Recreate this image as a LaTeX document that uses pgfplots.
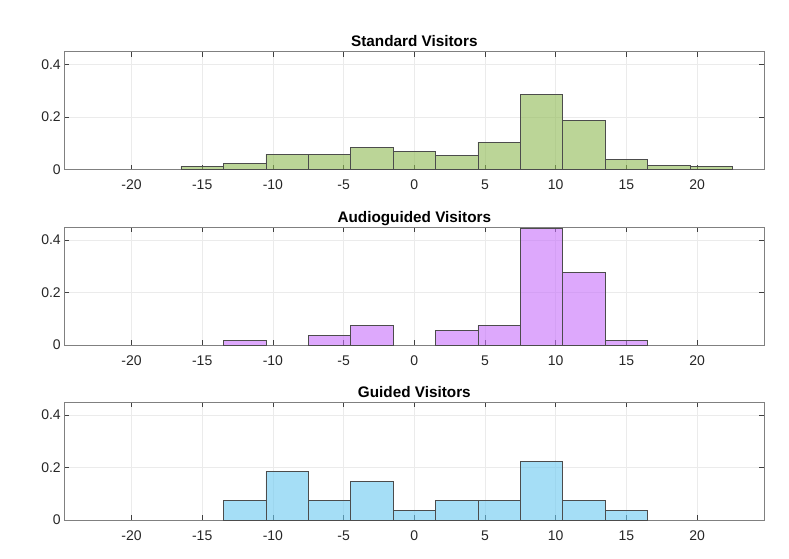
\documentclass[border=0pt]{standalone}
\usepackage{pgfplots}
\pgfplotsset{compat=1.18}
\usepackage{fontspec}
\setmainfont{Liberation Sans}
\definecolor{cgreen}{RGB}{142,185,82}
\definecolor{cpurple}{RGB}{198,110,250}
\definecolor{cblue}{RGB}{105,200,240}
\pgfplotsset{
  hist/.style={
    scale only axis, width=700pt, height=118pt,
    anchor=north west,
    xmin=-24.75, xmax=24.75, ymin=0, ymax=0.45,
    xtick={-20,-15,-10,-5,0,5,10,15,20},
    xticklabels={-20,-15,-10,-5,0,5,10,15,20},
    ytick={0,0.2,0.4}, yticklabels={0,0.2,0.4},
    tick align=inside, tick pos=both, major tick length=5pt,
    grid=major, grid style={color=black!8, line width=0.5pt},
    axis line style={color=black!50, line width=0.6pt},
    tick style={color=black!75, line width=0.6pt},
    ticklabel style={font=\fontsize{14}{16}\selectfont, color=black!85},
    xticklabel style={anchor=base, yshift=-20pt},
    every axis title shift=0pt,
    title style={at={(0.5,1)}, anchor=base, yshift=5pt, font=\bfseries\fontsize{15.3}{18}\selectfont},
  },
  bars/.style={ybar interval, fill=#1, fill opacity=0.6, draw=black!70, draw opacity=1, line width=0.6pt},
}
\begin{document}
\begin{tikzpicture}
\useasboundingbox (0,0) rectangle (789pt,-558pt);
\begin{axis}[hist, at={(64.3pt,-51.5pt)}, title={Standard Visitors}]
\addplot[bars=cgreen] coordinates {(-16.5,0.012)(-13.5,0.024)(-10.5,0.058)(-7.5,0.059)(-4.5,0.085)(-1.5,0.069)(1.5,0.053)(4.5,0.104)(7.5,0.285)(10.5,0.188)(13.5,0.040)(16.5,0.015)(19.5,0.012)(22.5,0)};
\end{axis}
\begin{axis}[hist, at={(64.3pt,-227pt)}, title={Audioguided Visitors}]
\addplot[bars=cpurple] coordinates {(-13.5,0.0185)(-10.5,0)};
\addplot[bars=cpurple] coordinates {(-7.5,0.037)(-4.5,0.0741)(-1.5,0)};
\addplot[bars=cpurple] coordinates {(1.5,0.0556)(4.5,0.0741)(7.5,0.4444)(10.5,0.2778)(13.5,0.0185)(16.5,0)};
\end{axis}
\begin{axis}[hist, at={(64.3pt,-402pt)}, title={Guided Visitors}]
\addplot[bars=cblue] coordinates {(-13.5,0.0741)(-10.5,0.1852)(-7.5,0.0741)(-4.5,0.1481)(-1.5,0.037)(1.5,0.0741)(4.5,0.0741)(7.5,0.2222)(10.5,0.0741)(13.5,0.037)(16.5,0)};
\end{axis}
\end{tikzpicture}
\end{document}
